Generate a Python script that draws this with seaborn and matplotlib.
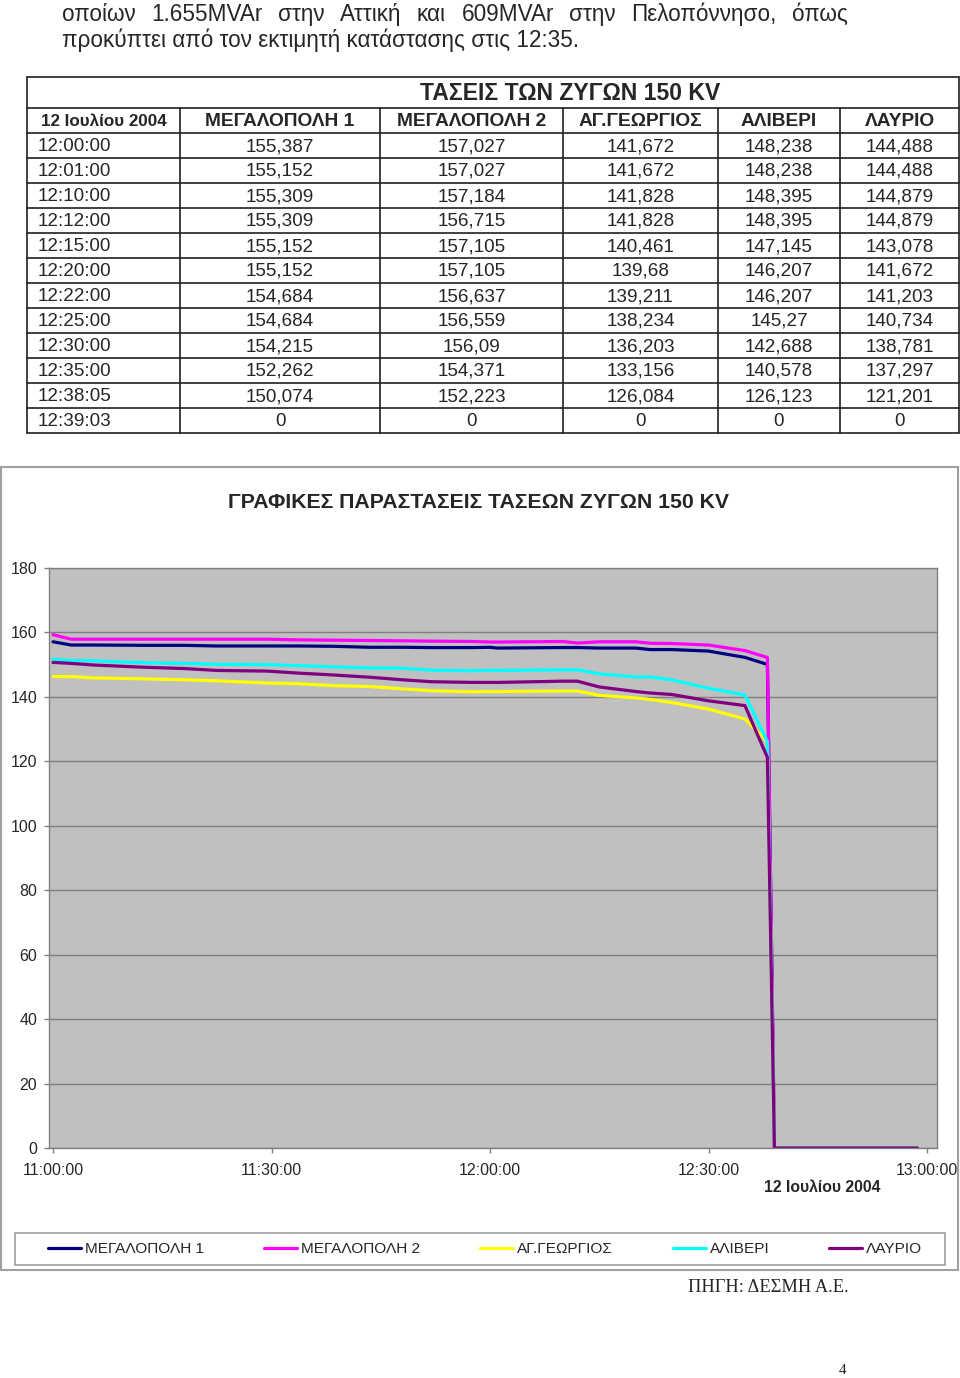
import matplotlib
matplotlib.use("Agg")
import numpy as np
import pandas as pd
import matplotlib.pyplot as plt
import matplotlib.dates as mdates
from matplotlib.lines import Line2D
from matplotlib.patches import Rectangle
from matplotlib import font_manager
import seaborn as sns

# --- data -------------------------------------------------------------
series_names = ["ΜΕΓΑΛΟΠΟΛΗ 1", "ΜΕΓΑΛΟΠΟΛΗ 2", "ΑΓ.ΓΕΩΡΓΙΟΣ", "ΑΛΙΒΕΡΙ", "ΛΑΥΡΙΟ"]
series_colors = ["#000080", "#FF00FF", "#FFFF00", "#00FFFF", "#800080"]

# table rows (12 Ιουλίου 2004)
table_times = ["12:00:00", "12:01:00", "12:10:00", "12:12:00", "12:15:00", "12:20:00",
               "12:22:00", "12:25:00", "12:30:00", "12:35:00", "12:38:05", "12:39:03"]
megalopoli1 = [155.387, 155.152, 155.309, 155.309, 155.152, 155.152, 154.684, 154.684, 154.215, 152.262, 150.074, 0]
megalopoli2 = [157.027, 157.027, 157.184, 156.715, 157.105, 157.105, 156.637, 156.559, 156.09, 154.371, 152.223, 0]
ag_georgios = [141.672, 141.672, 141.828, 141.828, 140.461, 139.68, 139.211, 138.234, 136.203, 133.156, 126.084, 0]
aliveri = [148.238, 148.238, 148.395, 148.395, 147.145, 146.207, 146.207, 145.27, 142.688, 140.578, 126.123, 0]
lavrio = [144.488, 144.488, 144.879, 144.879, 143.078, 141.672, 141.203, 140.734, 138.781, 137.297, 121.201, 0]

# earlier part of the chart
early_times = ["11:00:00", "11:02:30", "11:05:30", "11:12:30", "11:18:00", "11:22:30", "11:29:30",
               "11:33:30", "11:38:30", "11:43:30", "11:48:00", "11:52:00", "11:57:30"]
early_meg1 = [157.1, 156.1, 156.1, 156.0, 156.0, 155.8, 155.8, 155.8, 155.7, 155.4, 155.4, 155.3, 155.3]
early_meg2 = [159.3, 157.9, 157.9, 157.9, 157.9, 157.9, 157.9, 157.7, 157.6, 157.5, 157.4, 157.3, 157.2]
early_ag = [146.3, 146.3, 145.9, 145.6, 145.3, 145.0, 144.3, 144.1, 143.5, 143.2, 142.5, 141.9, 141.6]
early_ali = [151.7, 151.3, 151.2, 150.6, 150.4, 150.1, 150.0, 149.7, 149.3, 149.0, 148.9, 148.3, 148.1]
early_lav = [150.7, 150.4, 149.9, 149.2, 148.8, 148.2, 148.0, 147.4, 146.8, 146.1, 145.3, 144.7, 144.5]

tail_time = "12:58:40"
tail_value = 0

para_line1 = "οποίων 1.655MVAr στην Αττική και 609MVAr στην Πελοπόννησο, όπως"
para_line2 = "προκύπτει από τον εκτιμητή κατάστασης στις 12:35."
table_title = "ΤΑΣΕΙΣ ΤΩΝ ΖΥΓΩΝ 150 KV"
date_label = "12 Ιουλίου 2004"
chart_title = "ΓΡΑΦΙΚΕΣ ΠΑΡΑΣΤΑΣΕΙΣ ΤΑΣΕΩΝ ΖΥΓΩΝ 150 KV"
source_text = "ΠΗΓΗ: ΔΕΣΜΗ Α.Ε."

table_cols = [megalopoli1, megalopoli2, ag_georgios, aliveri, lavrio]
early_cols = [early_meg1, early_meg2, early_ag, early_ali, early_lav]

rows = []
for name, early, tab in zip(series_names, early_cols, table_cols):
    times = early_times + table_times + [tail_time]
    vals = early + tab + [tail_value]
    for t, v in zip(times, vals):
        rows.append({"time": pd.to_datetime("2004-07-12 " + t), "value": v, "series": name})
df = pd.DataFrame(rows)

# --- style -------------------------------------------------------------
sns.set_theme(style="white")
avail = {f.name for f in font_manager.fontManager.ttflist}
NARROW = "Liberation Sans Narrow" if "Liberation Sans Narrow" in avail else "Liberation Sans"
plt.rcParams["font.family"] = ["Liberation Sans", "DejaVu Sans"]

W, H = 960, 1378
fig = plt.figure(figsize=(W / 100, H / 100), dpi=100)
bg = fig.add_axes([0, 0, 1, 1], zorder=0)
bg.set_xlim(0, W)
bg.set_ylim(H, 0)
bg.axis("off")
renderer = fig.canvas.get_renderer()


def width_of(s, size, **kw):
    t = bg.text(0, 0, s, fontsize=size, **kw)
    w = t.get_window_extent(renderer).width
    t.remove()
    return w


def fit_size(s, target, **kw):
    return 10 * target / width_of(s, 10, **kw)


def fmt(v):
    if v == 0:
        return "0"
    return ("%.3f" % v).rstrip("0").rstrip(".").replace(".", ",")


# --- paragraph (justified first line) ----------------------------------
ps = fit_size(para_line2, 520, family=NARROW)
words = para_line1.split(" ")
wws = [width_of(w, ps, family=NARROW) for w in words]
gap = (848 - 62 - sum(wws)) / (len(words) - 1)
x = 62
for w, ww in zip(words, wws):
    bg.text(x, 21, w, fontsize=ps, family=NARROW, va="baseline", ha="left")
    x += ww + gap
bg.text(62, 47, para_line2, fontsize=ps, family=NARROW, va="baseline", ha="left")

# --- table -------------------------------------------------------------
col_x = [27, 180, 380, 563, 718, 840, 959]
top, head_top, first_row, row_h = 77, 108, 133, 25
n_rows = len(table_times)
bottom = first_row + row_h * n_rows
lc = "#202020"
for yy in [top, head_top] + [first_row + i * row_h for i in range(n_rows + 1)]:
    bg.plot([col_x[0], col_x[-1]], [yy, yy], color=lc, lw=1.2)
for i, xx in enumerate(col_x):
    y0 = top if i in (0, len(col_x) - 1) else head_top
    bg.plot([xx, xx], [y0, bottom], color=lc, lw=1.2)

ts = fit_size(table_title, 299, weight="bold")
bg.text(570, 94, table_title, fontsize=ts, weight="bold", ha="center", va="center")
hs = fit_size("ΜΕΓΑΛΟΠΟΛΗ 1", 150, weight="bold")
hds = fit_size(date_label, 125, weight="bold")
headers = [date_label] + series_names
for i, h in enumerate(headers):
    bg.text((col_x[i] + col_x[i + 1]) / 2, 121, h, fontsize=hds if i == 0 else hs,
            weight="bold", ha="center", va="center")
cs = fit_size("155,387", 68)
for r, t in enumerate(table_times):
    yy = first_row + row_h * r + row_h / 2 + 1
    bg.text(38, yy, t, fontsize=cs, ha="left", va="center")
    for c, col in enumerate(table_cols):
        bg.text((col_x[c + 1] + col_x[c + 2]) / 2, yy, fmt(col[r]), fontsize=cs, ha="center", va="center")

# --- chart frame -------------------------------------------------------
bg.add_patch(Rectangle((1, 467), 957, 803, fill=False, edgecolor="#a0a0a0", lw=1.5))
cts = fit_size(chart_title, 501, family=NARROW, weight="bold")
bg.text(479, 502, chart_title, fontsize=cts, family=NARROW, weight="bold", ha="center", va="center")

ax = fig.add_axes([49 / W, 1 - 1148 / H, 888 / W, 580 / H], zorder=1)
ax.set_facecolor("#C0C0C0")
palette = dict(zip(series_names, series_colors))
sns.lineplot(data=df, x="time", y="value", hue="series", hue_order=series_names,
             palette=palette, estimator=None, sort=False, linewidth=2.3, legend=False, ax=ax)

x0 = pd.Timestamp("2004-07-12 11:00:00")
ax.set_xlim(x0 - pd.Timedelta(seconds=33), x0 + pd.Timedelta(minutes=121.37))
ax.set_ylim(0, 180)
ax.set_yticks(np.arange(0, 181, 20))
ax.set_xticks([x0 + pd.Timedelta(minutes=m) for m in range(0, 121, 30)])
ax.xaxis.set_major_formatter(mdates.DateFormatter("%H:%M:%S"))
ax.grid(axis="y", color="#808080", lw=1)
ax.grid(axis="x", visible=False)
for sp in ax.spines.values():
    sp.set_color("#808080")
    sp.set_linewidth(1)
tick_size = fit_size("11:00:00", 61, family=NARROW)
ax.tick_params(axis="both", direction="out", length=3.6, width=1, color="#808080",
               labelsize=tick_size, left=True, bottom=True)
ax.tick_params(axis="y", pad=5)
ax.tick_params(axis="x", pad=7.5)
for lab in ax.get_xticklabels() + ax.get_yticklabels():
    lab.set_family(NARROW)
ax.set_xlabel("")
ax.set_ylabel("")

ds = fit_size(date_label, 116, family=NARROW, weight="bold")
bg.text(822, 1188, date_label, fontsize=ds, family=NARROW, weight="bold", ha="center", va="center")

# --- legend ------------------------------------------------------------
bg.add_patch(Rectangle((15, 1233), 930, 32, fill=False, edgecolor="#a0a0a0", lw=1.2))
ls = fit_size("ΜΕΓΑΛΟΠΟΛΗ 1", 119, family=NARROW)
lpx = ls * 100 / 72
handles = [Line2D([], [], color=c, lw=2.3) for c in series_colors]
fig.legend(handles, series_names, loc="center", bbox_to_anchor=(485 / W, 1 - 1249 / H),
           ncol=5, frameon=False, handlelength=33 / lpx, handletextpad=4 / lpx,
           columnspacing=60 / lpx, prop={"family": NARROW, "size": ls})

# --- source / page number ---------------------------------------------
ss = fit_size(source_text, 160, family="Liberation Serif")
bg.text(688, 1288, source_text, fontsize=ss, family="Liberation Serif", ha="left", va="center")
bg.text(843, 1371, "4", fontsize=11, family="Liberation Serif", ha="center", va="center")

fig.savefig("out.png", dpi=100)
